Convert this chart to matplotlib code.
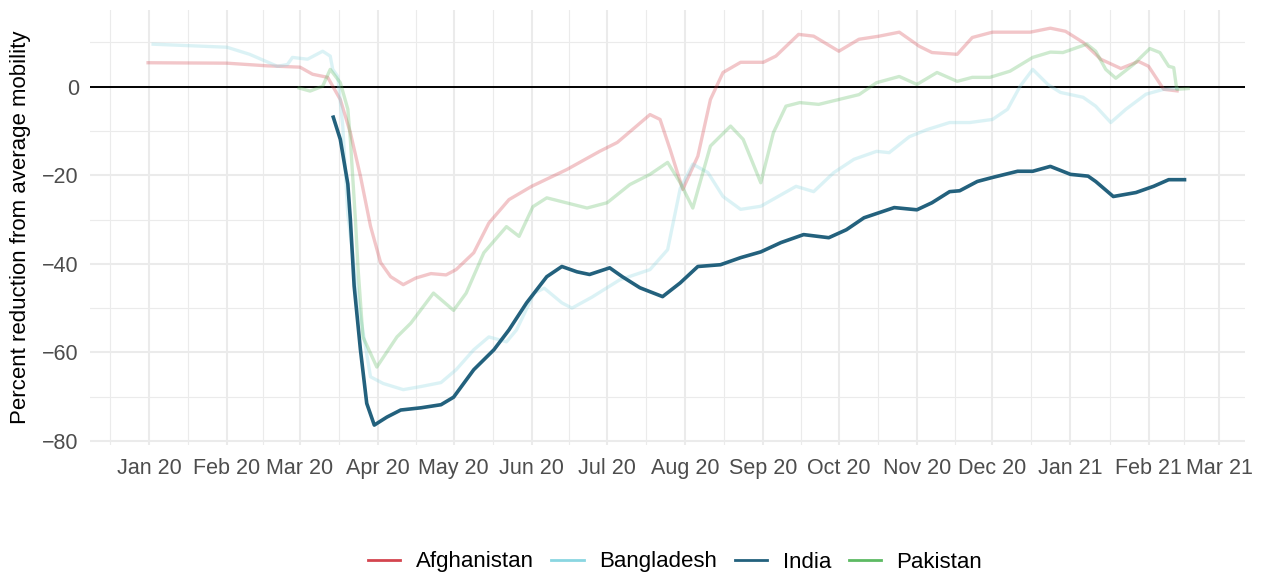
import numpy as np
import pandas as pd
import matplotlib
matplotlib.use("Agg")
import matplotlib.pyplot as plt
import matplotlib.dates as mdates

plt.rcParams["font.family"] = ["Liberation Sans", "DejaVu Sans"]

START = pd.Timestamp("2020-01-01")

# days since 2020-01-01 and percent change
afg_days = [-1, 31, 47, 60, 65, 71, 76, 80, 84, 88, 92, 96, 101, 106, 112, 118, 122,
            129, 135, 143, 152, 166, 179, 186, 192, 199, 203, 207, 212, 218, 223, 228,
            235, 244, 249, 258, 264, 274, 282, 290, 298, 306, 311, 321, 327, 335, 350,
            358, 364, 371, 378, 386, 393, 397, 403, 409]
afg_vals = [5.4, 5.3, 4.7, 4.4, 2.8, 2.1, -2.9, -10.4, -20.2, -31.5, -39.7, -42.9, -44.7,
            -43.2, -42.2, -42.5, -41.3, -37.5, -30.8, -25.5, -22.5, -18.7, -14.6, -12.6,
            -9.7, -6.3, -7.4, -14.2, -23.2, -15.7, -2.9, 3.2, 5.5, 5.5, 6.9, 11.8, 11.4,
            8.0, 10.7, 11.4, 12.3, 9.1, 7.7, 7.3, 11.1, 12.3, 12.3, 13.2, 12.5, 10.0, 6.2,
            4.1, 5.7, 4.6, -0.6, -1.0]

bgd_days = [1, 31, 40, 51, 55, 57, 63, 69, 72, 73, 75, 77, 79, 84, 88, 93, 101, 108, 116,
            122, 129, 135, 142, 146, 153, 157, 164, 168, 176, 187, 199, 206, 211, 216, 222,
            228, 235, 243, 248, 257, 264, 272, 280, 289, 294, 302, 309, 318, 326, 335, 341,
            346, 351, 357, 362, 371, 376, 382, 388, 396, 403, 409]
bgd_vals = [9.6, 8.9, 7.3, 4.6, 5.0, 6.6, 6.2, 8.0, 6.9, 3.9, 2.3, -9.0, -29.0, -51.9,
            -65.5, -67.0, -68.4, -67.7, -66.8, -63.9, -59.4, -56.5, -57.6, -54.9, -46.6,
            -45.5, -48.8, -50.0, -47.5, -43.6, -41.3, -36.8, -23.0, -17.5, -19.4, -24.8,
            -27.7, -27.0, -25.4, -22.5, -23.7, -19.4, -16.4, -14.6, -14.9, -11.3, -9.7,
            -8.1, -8.1, -7.4, -5.1, 0.1, 3.9, 0.5, -1.3, -2.4, -4.4, -8.1, -5.1, -1.7,
            -0.6, -0.4]

ind_days = [73, 76, 79, 80, 81.5, 84, 86.5, 89.5, 94.5, 100, 108, 116, 121, 129, 137, 143,
            150, 158, 164, 170, 175, 183, 188, 195, 204, 211, 218, 227, 235, 243, 251, 260,
            270, 277, 284, 296, 305, 311, 318, 322, 329, 335, 345, 351, 358, 366, 373, 376,
            383, 392, 399, 405, 412]
ind_vals = [-6.5, -11.9, -22.0, -30.0, -45.0, -59.4, -71.5, -76.4, -74.6, -73.0, -72.5,
            -71.8, -70.1, -63.9, -59.4, -54.9, -48.8, -42.9, -40.6, -41.8, -42.4, -40.9,
            -42.9, -45.4, -47.4, -44.3, -40.6, -40.2, -38.6, -37.3, -35.2, -33.4, -34.1,
            -32.3, -29.6, -27.3, -27.8, -26.2, -23.7, -23.5, -21.4, -20.5, -19.1, -19.1,
            -18.0, -19.8, -20.2, -21.4, -24.8, -23.9, -22.5, -21.0, -21.0]

pak_days = [59, 64, 69, 72, 76, 79, 80, 82, 83, 85, 90.5, 98.5, 104, 113, 121, 126, 133,
            142, 147, 152.5, 158, 174, 182, 191, 199, 206, 211, 216, 223, 231, 236, 243,
            248, 253, 258.5, 266, 274, 282, 289, 298, 305, 313, 321, 327, 334, 342, 351,
            358, 363, 372.5, 376, 380, 384, 391, 397.5, 401.5, 405, 407, 408.2, 413.4]
pak_vals = [-0.2, -1.0, 0.1, 3.9, 0.9, -5.1, -12.0, -30.0, -40.6, -56.5, -63.3, -56.5,
            -53.4, -46.6, -50.5, -46.6, -37.5, -31.6, -33.8, -27.1, -25.1, -27.4, -26.2,
            -22.1, -19.8, -17.1, -21.7, -27.4, -13.4, -8.9, -11.9, -21.7, -10.4, -4.4,
            -3.6, -4.0, -2.9, -1.8, 0.9, 2.3, 0.5, 3.2, 1.2, 2.1, 2.1, 3.5, 6.6, 7.8, 7.7,
            9.6, 8.0, 3.9, 1.9, 5.0, 8.6, 7.7, 4.6, 4.3, -0.6, -0.4]

countries = ["Afghanistan", "Bangladesh", "India", "Pakistan"]
colors = ["#d4454f", "#8ad6e1", "#23617d", "#5dba63"]
series = [(afg_days, afg_vals), (bgd_days, bgd_vals), (ind_days, ind_vals), (pak_days, pak_vals)]

fig = plt.figure(figsize=(12.66, 5.76), dpi=100)
ax = fig.add_axes([0.0711, 0.2274, 0.9123, 0.7552])

ax.axhline(0, color="black", lw=1.4, zorder=2)
for name, col, (d, v) in zip(countries, colors, series):
    x = START + pd.to_timedelta(np.array(d, dtype=float), unit="D")
    main = name == "India"
    ax.plot(x, v, color=col, lw=2.6 if main else 2.4, alpha=1 if main else 0.3,
            solid_joinstyle="round", solid_capstyle="butt", zorder=4 if main else 3)

# axes
ax.set_xlim(START + pd.Timedelta(days=-23.4), START + pd.Timedelta(days=435.3))
ax.set_ylim(-80.9, 17.3)
major = pd.date_range("2020-01-01", "2021-03-01", freq="MS")
minor = [major[i] + (major[i + 1] - major[i]) / 2 for i in range(len(major) - 1)]
minor = [pd.Timestamp("2019-12-16 12:00")] + minor
ax.set_xticks(major)
ax.set_xticks(minor, minor=True)
ax.xaxis.set_major_formatter(mdates.DateFormatter("%b %y"))
ax.set_yticks([-80, -60, -40, -20, 0])
ax.set_yticks([-70, -50, -30, -10, 10], minor=True)
ax.set_yticklabels(["\u221280", "\u221260", "\u221240", "\u221220", "0"])

ax.grid(which="major", color="#ebebeb", lw=1.5)
ax.grid(which="minor", color="#ebebeb", lw=0.8)
ax.set_axisbelow(True)
for s in ax.spines.values():
    s.set_visible(False)
ax.tick_params(which="both", length=0)
ax.tick_params(axis="both", labelsize=15.5, labelcolor="#4d4d4d")
ax.tick_params(axis="x", pad=9)
ax.tick_params(axis="y", pad=8)
ax.set_ylabel("Percent reduction from average mobility", fontsize=16, labelpad=8)

handles = [plt.Line2D([], [], color=c, lw=2) for c in colors]
fig.legend(handles, countries, loc="center", bbox_to_anchor=(675 / 1266, 1 - 562 / 576),
           ncol=4, frameon=False, fontsize=16, handlelength=1.45,
           handletextpad=0.7, columnspacing=0.8)

fig.savefig("out.png", dpi=100)
